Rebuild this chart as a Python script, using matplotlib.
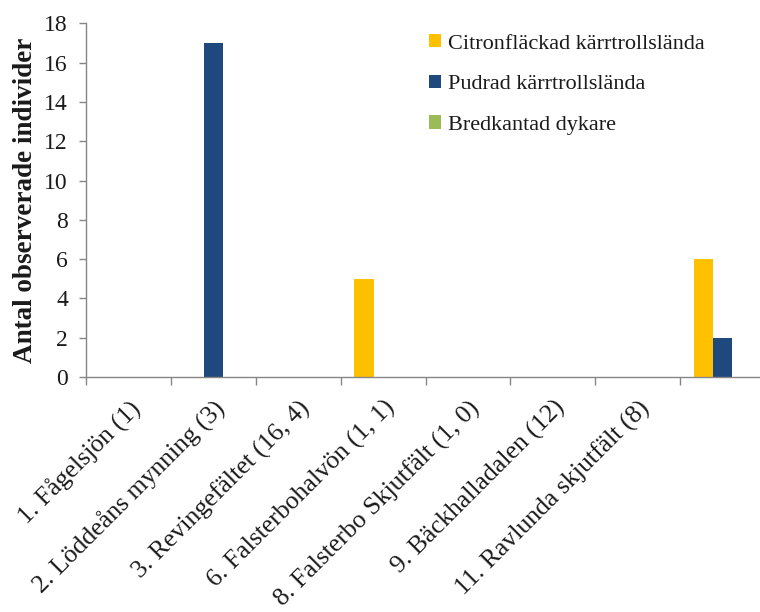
import matplotlib
matplotlib.use("Agg")
import matplotlib.pyplot as plt
import numpy as np

categories = ["1. Fågelsjön (1)", "2. Löddeåns mynning (3)", "3. Revingefältet (16, 4)",
              "6. Falsterbohalvön (1, 1)", "8. Falsterbo Skjutfält (1, 0)",
              "9. Bäckhalladalen (12)", "11. Ravlunda skjutfält (8)", ""]
series_names = ["Citronfläckad kärrtrollslända", "Pudrad kärrtrollslända", "Bredkantad dykare"]
citron = [0, 0, 0, 5, 0, 0, 0, 6]
pudrad = [0, 17, 0, 0, 0, 0, 0, 2]
bredkantad = [0, 0, 0, 0, 0, 0, 0, 0]
colors = ["#FFC000", "#1F497D", "#9BBB59"]
yticks = [0, 2, 4, 6, 8, 10, 12, 14, 16, 18]

plt.rcParams['font.family'] = ['Liberation Serif', 'DejaVu Serif']

W, H = 760, 612
fig = plt.figure(figsize=(W / 100, H / 100), dpi=100)
x0, x1 = 86, 765
y0, y1 = 377, 23.3
ax = fig.add_axes([x0 / W, 1 - y0 / H, (x1 - x0) / W, (y0 - y1) / H])

x = np.arange(len(categories))
bw = 0.225
handles = []
for i, (vals, name, c) in enumerate(zip([citron, pudrad, bredkantad], series_names, colors)):
    h = ax.bar(x + (i - 1) * bw, vals, width=bw, color=c, label=name, linewidth=0)
    handles.append(h)

ax.set_xlim(-0.5, len(categories) - 0.5)
ax.set_ylim(0, 18)
ax.set_yticks(yticks)
ax.set_xticks(x)
ax.set_xticklabels(categories, rotation=45, ha='right', va='top', rotation_mode='anchor',
                   fontsize=18.5, color='#1a1a1a')
ax.set_xticks(np.arange(len(categories) + 1) - 0.5, minor=True)
ax.tick_params(axis='x', which='major', length=0, pad=14)
ax.tick_params(axis='x', which='minor', length=5.8, width=1, color='#868686', direction='out')
ax.tick_params(axis='y', length=5, width=1, color='#868686', direction='out', labelsize=17,
               labelcolor='#1a1a1a', pad=8)

for s in ['top', 'right']:
    ax.spines[s].set_visible(False)
for s in ['left', 'bottom']:
    ax.spines[s].set_color('#868686')
    ax.spines[s].set_linewidth(1)

ax.set_ylabel("Antal observerade individer", fontsize=19.5, fontweight='bold', color='#1a1a1a', labelpad=4.5)

leg = ax.legend(handles=handles, loc='upper left', bbox_to_anchor=(429 / W, 1 - 34 / H),
                bbox_transform=fig.transFigure, frameon=False, fontsize=16,
                handlelength=0.55, handleheight=0.55, handletextpad=0.3, labelspacing=0.95,
                borderpad=0, borderaxespad=0)
for t in leg.get_texts():
    t.set_color('#1a1a1a')

fig.savefig("out.png", dpi=100)
